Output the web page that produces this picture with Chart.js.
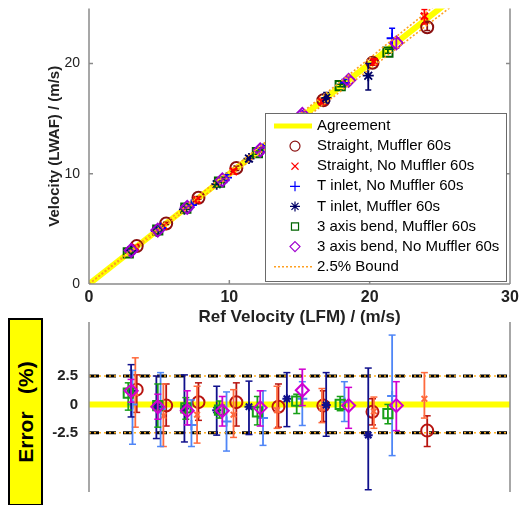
<!DOCTYPE html>
<html><head><meta charset="utf-8">
<script src="https://cdn.jsdelivr.net/npm/chart.js@4/dist/chart.umd.min.js"></script>
<style>
html,body{margin:0;padding:0;background:#fff;}
body{width:520px;height:505px;position:relative;overflow:hidden;font-family:"Liberation Sans",Arial,sans-serif;}
#top{position:absolute;left:0;top:0;}
#bot{position:absolute;left:0;top:300px;}
#errbox{position:absolute;left:8px;top:318px;width:31px;height:184px;background:#ffff00;border:2px solid #000;}
#errbox span{position:absolute;left:50%;top:50%;transform:translate(-50%,-50%) rotate(-90deg);font-weight:bold;font-size:21px;white-space:pre;color:#000;}
</style></head>
<body>
<canvas id="top" width="520" height="328"></canvas>
<canvas id="bot" width="520" height="205"></canvas>
<div id="errbox"><span>Error   (%)</span></div>
<script>
// ---------- data ----------
const X_TICKS = [0, 10, 20, 30];
const TOP_Y_TICKS = [0, 10, 20];
const ERR_TICKS = [2.5, 0, -2.5];
const LINE_X = [0, 30];
const AGREE_Y = [0, 30];
const BOUND_HI_Y = [0, 30.75];
const BOUND_LO_Y = [0, 29.25];
const ERR_ZERO_Y = [0, 0];
const ERR_BOUND_HI_Y = [2.5, 2.5];
const ERR_BOUND_LO_Y = [-2.5, -2.5];

const NAMES = ['Straight, Muffler 60s', 'Straight, No Muffler 60s', 'T inlet, No Muffler 60s',
               'T inlet, Muffler 60s', '3 axis bend, Muffler 60s', '3 axis bend, No Muffler 60s'];

// Straight, Muffler 60s
const S1_X      = [3.4, 5.5, 7.8, 10.5, 13.5, 16.7, 20.2, 24.1];
const S1_TOP_Y  = [3.44, 5.49, 7.82, 10.52, 13.47, 16.68, 20.07, 23.3];
const S1_TOP_LO = [3.38, 5.40, 7.69, 10.30, 13.23, 16.45, 19.84, 23.0];
const S1_TOP_HI = [3.49, 5.60, 7.95, 10.70, 13.74, 16.90, 20.30, 23.7];
const S1_ERR    = [1.3, -0.1, 0.2, 0.2, -0.2, -0.1, -0.65, -2.3];
const S1_ERR_LO = [-0.7, -1.9, -1.4, -1.9, -2.0, -1.5, -1.8, -3.7];
const S1_ERR_HI = [2.6, 1.8, 1.9, 1.9, 1.8, 1.2, 0.5, -1.0];

// Straight, No Muffler 60s
const S2_X      = [3.3, 5.3, 7.7, 10.3, 13.4, 16.6, 20.3, 23.9];
const S2_TOP_Y  = [3.33, 5.25, 7.63, 10.21, 13.33, 16.55, 20.18, 24.3];
const S2_TOP_LO = [3.23, 5.10, 7.44, 10.00, 13.12, 16.33, 19.87, 23.6];
const S2_TOP_HI = [3.44, 5.40, 7.82, 10.43, 13.61, 16.83, 20.43, 24.9];
const S2_ERR    = [1.0, -1.0, -0.9, -0.9, -0.5, -0.3, -0.6, 0.5];
const S2_ERR_LO = [-2.0, -3.7, -3.4, -2.9, -2.1, -1.6, -2.1, -1.2];
const S2_ERR_HI = [4.1, 1.8, 1.6, 1.3, 1.6, 1.4, 0.65, 2.8];

// T inlet, No Muffler 60s
const S3_X      = [3.1, 5.1, 7.3, 9.8, 12.4, 15.2, 18.2, 21.6];
const S3_TOP_Y  = [3.10, 5.08, 7.17, 9.65, 12.25, 15.28, 18.24, 22.3];
const S3_TOP_LO = [2.99, 4.91, 7.03, 9.40, 11.95, 14.92, 17.93, 21.3];
const S3_TOP_HI = [3.19, 5.24, 7.33, 9.91, 12.55, 15.50, 18.56, 23.2];
const S3_ERR    = [0.0, -0.4, -1.8, -1.5, -1.2, 0.5, 0.2, 0.75];
const S3_ERR_LO = [-3.5, -3.7, -3.7, -4.1, -3.6, -1.85, -1.5, -4.5];
const S3_ERR_HI = [3.0, 2.8, 0.4, 1.1, 1.2, 2.0, 2.0, 6.1];

// T inlet, Muffler 60s
const S4_X      = [3.0, 4.8, 6.8, 9.1, 11.4, 14.1, 16.9, 19.9];
const S4_TOP_Y  = [3.04, 4.79, 6.78, 9.05, 11.38, 14.17, 16.89, 18.9];
const S4_TOP_LO = [2.97, 4.66, 6.58, 8.85, 11.10, 13.83, 16.43, 17.6];
const S4_TOP_HI = [3.11, 4.92, 6.98, 9.25, 11.63, 14.49, 17.37, 20.0];
const S4_ERR    = [1.2, -0.2, -0.35, -0.5, -0.2, 0.5, -0.05, -2.7];
const S4_ERR_LO = [-1.1, -3.0, -3.3, -2.7, -2.65, -1.95, -2.8, -7.5];
const S4_ERR_HI = [3.5, 2.5, 2.6, 1.6, 2.05, 2.8, 2.8, 3.2];

// 3 axis bend, Muffler 60s
const S5_X      = [2.8, 4.9, 6.9, 9.3, 12.0, 14.8, 17.9, 21.3];
const S5_TOP_Y  = [2.83, 4.90, 6.88, 9.25, 11.92, 14.84, 18.0, 21.05];
const S5_TOP_LO = [2.79, 4.80, 6.81, 9.19, 11.78, 14.68, 17.90, 20.94];
const S5_TOP_HI = [2.85, 4.99, 6.94, 9.33, 12.08, 14.93, 18.13, 21.3];
const S5_ERR    = [1.0, -0.1, -0.3, -0.5, -0.65, 0.3, 0.0, -0.8];
const S5_ERR_LO = [-0.5, -2.0, -1.3, -1.2, -1.8, -0.8, -0.55, -1.7];
const S5_ERR_HI = [1.9, 1.8, 0.6, 0.3, 0.7, 0.9, 0.7, 0.0];

// 3 axis bend, No Muffler 60s
const S6_X      = [3.0, 4.9, 7.0, 9.5, 12.2, 15.2, 18.5, 21.9];
const S6_TOP_Y  = [3.04, 4.89, 6.96, 9.45, 12.16, 15.39, 18.48, 21.88];
const S6_TOP_LO = [3.01, 4.84, 6.87, 9.32, 11.97, 15.18, 18.11, 21.40];
const S6_TOP_HI = [3.07, 4.94, 7.08, 9.57, 12.35, 15.67, 18.78, 22.34];
const S6_ERR    = [1.2, -0.2, -0.55, -0.55, -0.3, 1.25, -0.1, -0.1];
const S6_ERR_LO = [0.2, -1.3, -1.8, -1.9, -1.9, -0.1, -2.1, -2.3];
const S6_ERR_HI = [2.2, 0.9, 1.2, 0.7, 1.2, 3.1, 1.5, 2.0];

// ---------- styles ----------
const FONT = '"Liberation Sans", Arial, sans-serif';
Chart.defaults.font.family = FONT;
const TOP_STYLE = [
  {ps: 'circle',   r: 6,   c: '#8b1010', w: 2},
  {ps: 'crossRot', r: 5,   c: '#ff0000', w: 2.4},
  {ps: 'cross',    r: 5.5, c: '#0000ff', w: 1.8},
  {ps: 'star',     r: 5.5, c: '#000066', w: 1.8},
  {ps: 'rect',     r: 6.5, c: '#006400', w: 2},
  {ps: 'rectRot',  r: 6.5, c: '#a000d0', w: 2}
];
const BOT_STYLE = [
  {ps: 'circle',   r: 6,   c: '#b81410', w: 2},
  {ps: 'crossRot', r: 4,   c: '#ff6a3d', w: 2},
  {ps: 'cross',    r: 5,   c: '#4f86f7', w: 2},
  {ps: 'star',     r: 4.5, c: '#10108c', w: 2},
  {ps: 'rect',     r: 6.5, c: '#18a018', w: 2},
  {ps: 'rectRot',  r: 6.5, c: '#d000d0', w: 2}
];

const SERIES = [
  {x: S1_X, ty: S1_TOP_Y, tlo: S1_TOP_LO, thi: S1_TOP_HI, e: S1_ERR, elo: S1_ERR_LO, ehi: S1_ERR_HI},
  {x: S2_X, ty: S2_TOP_Y, tlo: S2_TOP_LO, thi: S2_TOP_HI, e: S2_ERR, elo: S2_ERR_LO, ehi: S2_ERR_HI},
  {x: S3_X, ty: S3_TOP_Y, tlo: S3_TOP_LO, thi: S3_TOP_HI, e: S3_ERR, elo: S3_ERR_LO, ehi: S3_ERR_HI},
  {x: S4_X, ty: S4_TOP_Y, tlo: S4_TOP_LO, thi: S4_TOP_HI, e: S4_ERR, elo: S4_ERR_LO, ehi: S4_ERR_HI},
  {x: S5_X, ty: S5_TOP_Y, tlo: S5_TOP_LO, thi: S5_TOP_HI, e: S5_ERR, elo: S5_ERR_LO, ehi: S5_ERR_HI},
  {x: S6_X, ty: S6_TOP_Y, tlo: S6_TOP_LO, thi: S6_TOP_HI, e: S6_ERR, elo: S6_ERR_LO, ehi: S6_ERR_HI}
];

function pts(xs, ys) { return xs.map((v, i) => ({x: v, y: ys[i]})); }
function barPts(xs, lo, hi) {
  const out = [];
  xs.forEach((v, i) => { out.push({x: v, y: lo[i]}, {x: v, y: hi[i]}, {x: v, y: null}); });
  return out;
}
function lineDs(label, xs, ys, color, width, dash, order) {
  return {label, data: pts(xs, ys), showLine: true, borderColor: color, borderWidth: width,
          borderDash: dash, pointRadius: 0, order, clip: 0, fill: false};
}
function barDs(label, data, st, order, cap) {
  return {label, data, showLine: true, spanGaps: false, borderColor: st.c, borderWidth: 1.8,
          pointStyle: 'line', pointRadius: cap, pointBorderColor: st.c, pointBorderWidth: 1.5,
          pointBackgroundColor: 'rgba(0,0,0,0)', order, fill: false};
}
function markDs(label, data, st, order) {
  return {label, data, showLine: false, pointStyle: st.ps, pointRadius: st.r, pointBorderColor: st.c,
          pointBorderWidth: st.w, pointBackgroundColor: 'rgba(0,0,0,0)', borderColor: st.c, order};
}
function fixY(width) {
  return s => { s.width = width; s.paddingTop = 0; s.paddingBottom = 0; };
}

// ---------- plugins ----------
const framePlugin = {
  id: 'frame',
  afterDraw(chart, args, o) {
    const {ctx, chartArea: a, scales} = chart;
    ctx.save();
    ctx.strokeStyle = '#8a8a8a'; ctx.lineWidth = 1.5; ctx.setLineDash([]);
    ctx.beginPath();
    if (o.left)   { ctx.moveTo(a.left, a.top); ctx.lineTo(a.left, a.bottom); }
    if (o.right)  { ctx.moveTo(a.right, a.top); ctx.lineTo(a.right, a.bottom); }
    if (o.bottom) { ctx.moveTo(a.left, a.bottom); ctx.lineTo(a.right, a.bottom); }
    (o.xTicks || []).forEach(v => {
      const px = scales.x.getPixelForValue(v);
      ctx.moveTo(px, a.bottom); ctx.lineTo(px, a.bottom - 4);
    });
    (o.yTicks || []).forEach(v => {
      const py = scales.y.getPixelForValue(v);
      ctx.moveTo(a.left, py); ctx.lineTo(a.left + 4, py);
      if (o.right) { ctx.moveTo(a.right, py); ctx.lineTo(a.right - 4, py); }
    });
    ctx.stroke();
    ctx.restore();
  }
};

function drawMarker(ctx, style, x, y, r) {
  ctx.beginPath();
  const s = Math.SQRT1_2 * r;
  if (style === 'circle') { ctx.arc(x, y, r, 0, Math.PI * 2); }
  else if (style === 'crossRot') { ctx.moveTo(x - s, y - s); ctx.lineTo(x + s, y + s); ctx.moveTo(x - s, y + s); ctx.lineTo(x + s, y - s); }
  else if (style === 'cross') { ctx.moveTo(x - r, y); ctx.lineTo(x + r, y); ctx.moveTo(x, y - r); ctx.lineTo(x, y + r); }
  else if (style === 'star') {
    ctx.moveTo(x - r, y); ctx.lineTo(x + r, y); ctx.moveTo(x, y - r); ctx.lineTo(x, y + r);
    ctx.moveTo(x - s, y - s); ctx.lineTo(x + s, y + s); ctx.moveTo(x - s, y + s); ctx.lineTo(x + s, y - s);
  }
  else if (style === 'rect') { ctx.rect(x - s, y - s, 2 * s, 2 * s); }
  else if (style === 'rectRot') { ctx.moveTo(x, y - r); ctx.lineTo(x + r, y); ctx.lineTo(x, y + r); ctx.lineTo(x - r, y); ctx.closePath(); }
  ctx.stroke();
}

const legendPlugin = {
  id: 'boxLegend',
  afterDraw(chart, args, o) {
    const ctx = chart.ctx;
    ctx.save();
    ctx.fillStyle = '#ffffff';
    ctx.fillRect(265.5, 113.5, 241, 168);
    ctx.strokeStyle = '#6a6a6a'; ctx.lineWidth = 1;
    ctx.strokeRect(265.5, 113.5, 241, 168);
    const entries = [{label: 'Agreement', line: true, color: '#ffff00', width: 5, dash: []}];
    NAMES.forEach((n, i) => entries.push({label: n, st: TOP_STYLE[i]}));
    entries.push({label: '2.5% Bound', line: true, color: '#ffa020', width: 1.6, dash: [2, 2]});
    entries.forEach((e, i) => {
      const y = 126 + i * 20.1;
      if (e.line) {
        ctx.strokeStyle = e.color; ctx.lineWidth = e.width; ctx.setLineDash(e.dash);
        ctx.beginPath(); ctx.moveTo(274, y); ctx.lineTo(312, y); ctx.stroke(); ctx.setLineDash([]);
      } else {
        ctx.strokeStyle = e.st.c; ctx.lineWidth = 1.2;
        drawMarker(ctx, e.st.ps, 295, y, 5);
      }
      ctx.fillStyle = '#000'; ctx.font = '15px ' + FONT; ctx.textBaseline = 'middle'; ctx.textAlign = 'left';
      ctx.fillText(e.label, 317, y);
    });
    ctx.restore();
  }
};

// ---------- top chart ----------
const topSets = [
  lineDs('Agreement', LINE_X, AGREE_Y, '#ffff00', 6, [], 200),
  lineDs('2.5% Bound', LINE_X, BOUND_HI_Y, '#ffa020', 1.6, [2, 2], 0),
  lineDs('2.5% Bound lo', LINE_X, BOUND_LO_Y, '#ffa020', 1.6, [2, 2], 0)
];
SERIES.forEach((s, i) => {
  topSets.push(barDs(NAMES[i] + ' bar', barPts(s.x, s.tlo, s.thi), TOP_STYLE[i], 100 - 2 * i, 3));
  topSets.push(markDs(NAMES[i], pts(s.x, s.ty), TOP_STYLE[i], 99 - 2 * i));
});

new Chart(document.getElementById('top'), {
  type: 'scatter',
  data: {datasets: topSets},
  plugins: [framePlugin, legendPlugin],
  options: {
    responsive: false, animation: false, events: [], devicePixelRatio: 1,
    layout: {padding: {left: 0, right: 10, top: 7, bottom: 0}},
    plugins: {legend: {display: false}, tooltip: {enabled: false},
              frame: {left: true, right: true, bottom: true, xTicks: [10, 20], yTicks: [10, 20]}},
    scales: {
      x: {type: 'linear', min: 0, max: 30,
          afterBuildTicks: s => { s.ticks = X_TICKS.map(v => ({value: v})); },
          grid: {display: false, drawTicks: false}, border: {display: false},
          ticks: {padding: 6, color: '#222', font: {size: 16, weight: 'bold', lineHeight: 1}, maxRotation: 0, autoSkip: false},
          title: {display: true, text: 'Ref Velocity (LFM) / (m/s)', color: '#222',
                  font: {size: 17, weight: 'bold'}, padding: {top: 0, bottom: 0}},
          afterFit: s => { s.height = 44; s.paddingLeft = 0; s.paddingRight = 0; }},
      y: {type: 'linear', min: 0, max: 25,
          afterBuildTicks: s => { s.ticks = TOP_Y_TICKS.map(v => ({value: v})); },
          grid: {display: false, drawTicks: false}, border: {display: false},
          ticks: {padding: 9, color: '#222', font: {size: 14, lineHeight: 1}},
          title: {display: true, text: 'Velocity (LWAF) / (m/s)', color: '#222',
                  font: {size: 15, weight: 'bold'}, padding: {top: 46, bottom: 0}},
          afterFit: fixY(89)}
    }
  }
});

// ---------- bottom chart ----------
const botSets = [
  lineDs('zero', LINE_X, ERR_ZERO_Y, '#ffff00', 6, [], 300),
  lineDs('+2.5 dash', LINE_X, ERR_BOUND_HI_Y, '#000000', 3, [10, 7], 250),
  lineDs('-2.5 dash', LINE_X, ERR_BOUND_LO_Y, '#000000', 3, [10, 7], 250),
  lineDs('+2.5 dot', LINE_X, ERR_BOUND_HI_Y, '#ffb020', 1.5, [2, 3], 240),
  lineDs('-2.5 dot', LINE_X, ERR_BOUND_LO_Y, '#ffb020', 1.5, [2, 3], 240)
];
SERIES.forEach((s, i) => {
  botSets.push(barDs(NAMES[i] + ' bar', barPts(s.x, s.elo, s.ehi), BOT_STYLE[i], 100 - 2 * i, 3.5));
  botSets.push(markDs(NAMES[i], pts(s.x, s.e), BOT_STYLE[i], 99 - 2 * i));
});

new Chart(document.getElementById('bot'), {
  type: 'scatter',
  data: {datasets: botSets},
  plugins: [framePlugin],
  options: {
    responsive: false, animation: false, events: [], devicePixelRatio: 1,
    layout: {padding: {left: 0, right: 10, top: 22, bottom: 13}},
    plugins: {legend: {display: false}, tooltip: {enabled: false},
              frame: {left: true, right: true, bottom: false}},
    scales: {
      x: {type: 'linear', min: 0, max: 30, display: false},
      y: {type: 'linear', min: -7.7, max: 7.25,
          afterBuildTicks: s => { s.ticks = ERR_TICKS.map(v => ({value: v})); },
          grid: {display: false, drawTicks: false}, border: {display: false},
          ticks: {padding: 11, color: '#222', font: {size: 15, weight: 'bold', lineHeight: 1}},
          afterFit: fixY(89)}
    }
  }
});
</script>
</body></html>
